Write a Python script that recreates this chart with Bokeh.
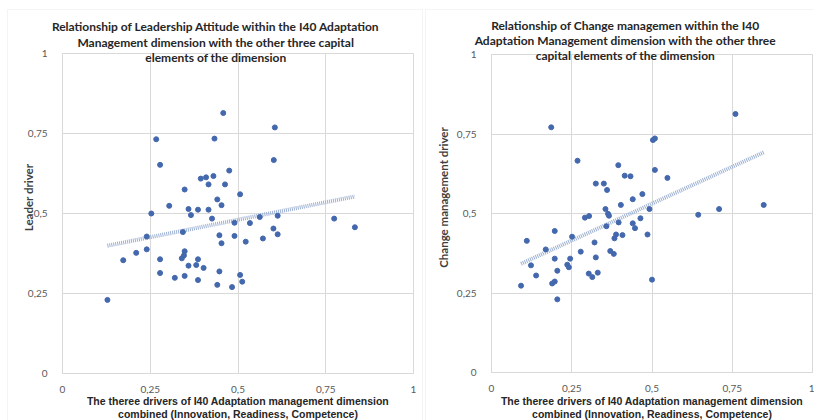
import numpy as np
from bokeh.plotting import figure
from bokeh.layouts import row
from bokeh.models import FixedTicker, Label, Range1d, BoxAnnotation
from bokeh.embed import file_html
from bokeh.resources import INLINE

# ---- data ----
leader_x = [0.458, 0.605, 0.267, 0.433, 0.278, 0.602, 0.475, 0.394, 0.409, 0.430,
            0.416, 0.463, 0.348, 0.506, 0.441, 0.304, 0.453, 0.359, 0.386, 0.416,
            0.366, 0.253, 0.426, 0.490, 0.534, 0.562, 0.613, 0.601, 0.613, 0.343,
            0.240, 0.447, 0.490, 0.453, 0.522, 0.571, 0.240, 0.210, 0.173, 0.278,
            0.348, 0.346, 0.340, 0.386, 0.359, 0.381, 0.402, 0.278, 0.320, 0.348,
            0.386, 0.447, 0.441, 0.483, 0.506, 0.512, 0.128, 0.774, 0.833]
leader_y = [0.814, 0.769, 0.732, 0.734, 0.652, 0.667, 0.634, 0.609, 0.613, 0.617,
            0.591, 0.591, 0.575, 0.560, 0.544, 0.524, 0.526, 0.514, 0.512, 0.512,
            0.495, 0.500, 0.484, 0.471, 0.470, 0.489, 0.493, 0.453, 0.435, 0.442,
            0.428, 0.432, 0.430, 0.407, 0.412, 0.422, 0.388, 0.377, 0.354, 0.357,
            0.382, 0.369, 0.360, 0.357, 0.337, 0.339, 0.330, 0.314, 0.299, 0.305,
            0.292, 0.319, 0.277, 0.270, 0.308, 0.287, 0.230, 0.484, 0.457]

change_x = [0.186, 0.268, 0.395, 0.415, 0.433, 0.325, 0.350, 0.360, 0.470, 0.440,
            0.403, 0.355, 0.492, 0.363, 0.366, 0.304, 0.291, 0.464, 0.396, 0.440,
            0.358, 0.447, 0.388, 0.408, 0.383, 0.486, 0.251, 0.197, 0.110, 0.321,
            0.169, 0.278, 0.370, 0.381, 0.325, 0.197, 0.245, 0.123, 0.236, 0.241,
            0.205, 0.139, 0.303, 0.314, 0.331, 0.197, 0.189, 0.092, 0.205, 0.760,
            0.503, 0.509, 0.509, 0.548, 0.709, 0.848, 0.644, 0.500]
change_y = [0.771, 0.666, 0.652, 0.619, 0.617, 0.594, 0.594, 0.574, 0.561, 0.545,
            0.527, 0.514, 0.514, 0.499, 0.493, 0.492, 0.487, 0.485, 0.472, 0.469,
            0.460, 0.454, 0.434, 0.432, 0.422, 0.434, 0.427, 0.445, 0.414, 0.409,
            0.387, 0.380, 0.382, 0.373, 0.362, 0.358, 0.358, 0.337, 0.339, 0.331,
            0.320, 0.305, 0.311, 0.300, 0.314, 0.286, 0.280, 0.273, 0.230, 0.813,
            0.731, 0.736, 0.637, 0.612, 0.514, 0.527, 0.496, 0.292]

tick_values = [0, 0.25, 0.5, 0.75, 1]
tick_labels = ["0", "0,25", "0,5", "0,75", "1"]

title_left = ["Relationship of Leadership Attitude within the I40 Adaptation",
              "Management dimension with the other three capital",
              "elements of the dimension"]
title_right = ["Relationship of Change managemen within the I40",
               "Adaptation Management dimension with the other three",
               "capital elements of the dimension"]
xlabel = ["The theree drivers of I40 Adaptation management dimension",
          "combined (Innovation, Readiness, Competence)"]
ylabel_left = "Leader driver"
ylabel_right = "Change management driver"

GRID = "#d9d9d9"
DOT = "#4468ad"
TREND = "#9cb0d2"
TICKC = "#595959"
TITLE_FONT = "Lato"
AX_FONT = "Liberation Sans"
H = 420


def make(xs, ys, titles, ylab, width, x0_px, y0_px, sx_px, sy_px,
         title_x, title_py, ylab_px, ylab_py, xlab_py, box_px):
    # whole canvas is the frame; data (0,0) sits at (x0_px, y0_px) of this figure
    def fx(px):
        return (px - x0_px) / sx_px

    def fy(py):
        return (y0_px - py) / sy_px

    p = figure(width=width, height=H,
               x_range=Range1d(fx(0), fx(width)), y_range=Range1d(fy(H), fy(0)),
               output_backend="svg", toolbar_location=None, min_border=0)
    p.outline_line_color = None
    p.background_fill_color = "white"
    p.border_fill_color = "white"
    for ax in (p.xaxis[0], p.yaxis[0]):
        ax.fixed_location = 0
        ax.bounds = (0, 1)
        ax.ticker = FixedTicker(ticks=tick_values)
        ax.major_label_overrides = dict(zip(tick_values, tick_labels))
        ax.major_tick_line_color = None
        ax.minor_tick_line_color = None
        ax.axis_line_color = GRID
        ax.major_label_text_color = TICKC
        ax.major_label_text_font = TITLE_FONT
        ax.major_label_text_font_size = "10px"
    p.xaxis.major_label_standoff = 6
    p.yaxis.major_label_standoff = 9

    have_cross = True
    for g in (p.xgrid[0], p.ygrid[0]):
        g.ticker = FixedTicker(ticks=tick_values)
        g.bounds = (0, 1)
        g.grid_line_color = GRID
        try:
            g.cross_bounds = (0, 1)
        except AttributeError:
            have_cross = False
    if not have_cross:
        p.grid.visible = False
        p.multi_line([[t, t] for t in tick_values], [[0, 1]] * len(tick_values),
                     line_color=GRID)
        p.multi_line([[0, 1]] * len(tick_values), [[t, t] for t in tick_values],
                     line_color=GRID)

    # chart-area border
    p.add_layout(BoxAnnotation(left=fx(box_px[0]), right=fx(box_px[1]),
                               top=fy(box_px[2]), bottom=fy(H + 20),
                               fill_alpha=0, line_color=GRID, line_width=1))

    # linear trend line (least squares), from min x to max x
    xa, ya = np.array(xs), np.array(ys)
    k, b = np.polyfit(xa, ya, 1)
    tx = np.array([xa.min(), xa.max()])
    p.line(tx, k * tx + b, line_color=TREND, line_width=4, line_dash="1 1")

    p.scatter(xs, ys, size=5, fill_color=DOT, line_color=DOT)

    for line, py in zip(titles, title_py):
        p.add_layout(Label(x=title_x, y=fy(py), text=line, text_align="center",
                           text_baseline="middle", text_font=TITLE_FONT,
                           text_font_style="bold", text_font_size="12px",
                           text_color="#262626"))
    p.add_layout(Label(x=fx(ylab_px), y=fy(ylab_py), text=ylab, angle=np.pi / 2,
                       text_align="center", text_baseline="middle",
                       text_font=TITLE_FONT, text_font_style="bold",
                       text_font_size="11.5px", text_color="#404040"))
    for line, py in zip(xlabel, xlab_py):
        p.add_layout(Label(x=0.5, y=fy(py), text=line,
                           text_align="center", text_baseline="middle",
                           text_font=AX_FONT, text_font_style="bold",
                           text_font_size="10.5px", text_color="#262626"))
    return p


# left chart: page x 0..424, plot area x 62..413, y 53..373
p1 = make(leader_x, leader_y, title_left, ylabel_left, width=424,
          x0_px=62, y0_px=373, sx_px=351, sy_px=320,
          title_x=0.437, title_py=[26, 41.5, 56.5], ylab_px=28, ylab_py=197,
          xlab_py=[400.5, 413], box_px=(7, 422, 9))
# right chart: page x 424..814, plot area x 491..812 (local 67..388), y 54..372
p2 = make(change_x, change_y, title_right, ylabel_right, width=390,
          x0_px=67, y0_px=372, sx_px=321, sy_px=318,
          title_x=0.417, title_py=[25, 40, 55], ylab_px=19, ylab_py=197,
          xlab_py=[400.5, 413], box_px=(1, 420, 9))

layout = row(p1, p2, spacing=0)
open("out.html", "w").write(file_html(layout, INLINE))
